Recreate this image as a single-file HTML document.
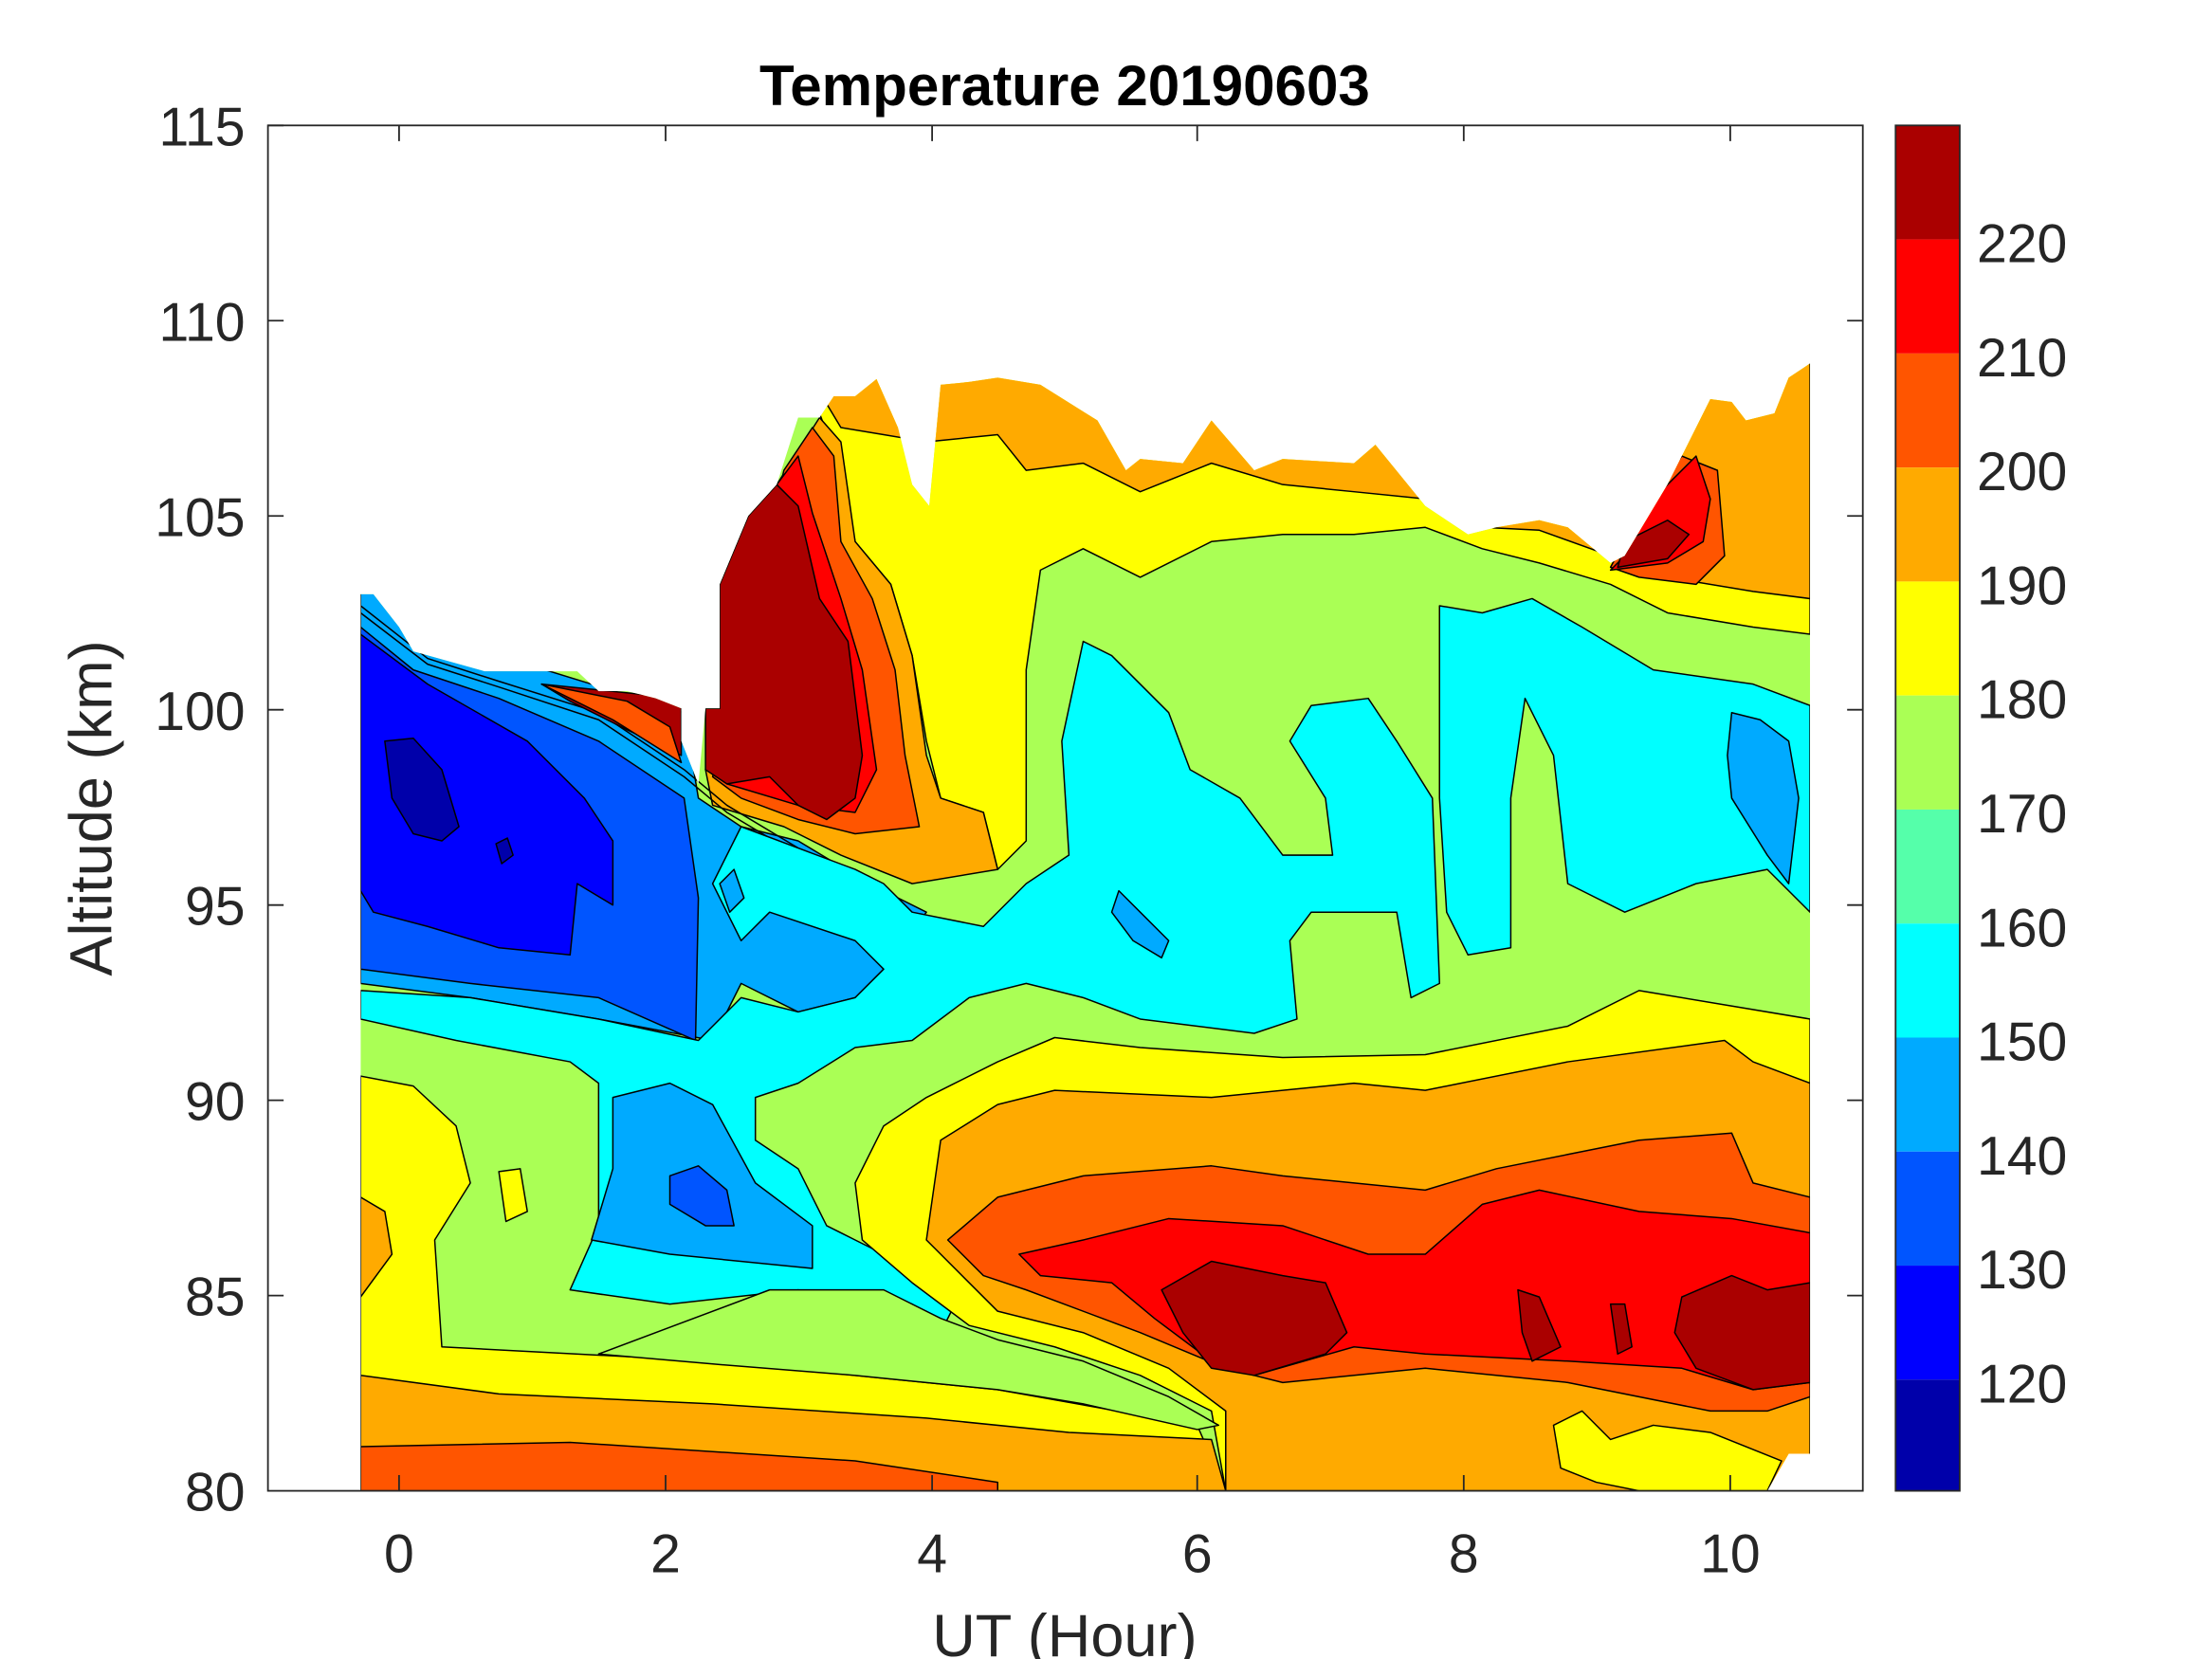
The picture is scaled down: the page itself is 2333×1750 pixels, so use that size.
<!DOCTYPE html>
<html><head><meta charset="utf-8"><style>html,body{margin:0;padding:0;background:#fff}svg{display:block}</style></head>
<body>
<svg width="2333" height="1750" viewBox="0 0 1552 1164" preserveAspectRatio="none" xmlns="http://www.w3.org/2000/svg" font-family="Liberation Sans, sans-serif">
<rect width="1552" height="1164" fill="#fff"/>
<defs><clipPath id="c"><polygon points="253,417 262,417 280,440 290,457 340,471 405,471 420,485 440,485 460,490 478,497 478,520 490,550 495,497 505,497 505,410 525,362 545,340 560,293 575,293 585,278 600,278 615,266 630,300 640,340 652,355 660,270 680,268 700,265 730,270 770,295 790,330 800,322 830,325 850,295 880,330 900,322 950,325 965,312 1000,355 1030,375 1050,370 1080,365 1100,370 1130,395 1140,390 1170,340 1200,280 1215,282 1225,295 1245,290 1255,265 1270,255 1270,1020 1255,1020 1240,1046 253,1046"/></clipPath></defs>
<g clip-path="url(#c)" stroke="#000" stroke-width="1" stroke-linejoin="round">
<rect x="240" y="240" width="1040" height="820" fill="#aaff55" stroke="none"/>
<!-- top yellow band -->
<polygon fill="#ffff00" points="560,250 1270,250 1270,445 1230,440 1170,430 1130,410 1080,395 1040,385 1000,370 950,375 900,375 850,380 800,405 760,385 730,400 720,470 720,590 700,610 690,570 660,560 650,520 640,460 625,410 600,380 590,330"/>
<!-- top orange -->
<polygon fill="#ffaa00" points="560,250 1270,250 1270,420 1230,415 1170,405 1130,390 1080,372 1040,370 1000,350 950,345 900,340 850,325 800,345 760,325 720,330 700,305 650,310 620,305 590,300"/>
<polygon fill="#ff5500" points="1150,360 1180,320 1205,330 1210,390 1190,410 1150,405 1130,398"/>
<polygon fill="#ff0000" points="1160,350 1190,320 1200,350 1195,380 1170,395 1130,400 1140,390"/>
<polygon fill="#aa0000" points="1140,380 1170,365 1185,375 1170,392 1135,398"/>
<!-- upper middle orange / red / dark red -->
<polygon fill="#ffaa00" points="545,340 575,293 590,310 600,380 625,410 640,460 650,530 660,560 690,570 700,610 640,620 590,600 550,580 500,565 495,540"/>
<polygon fill="#ff5500" points="550,330 570,300 585,320 590,380 612,420 628,470 635,530 645,580 600,585 560,575 520,560 500,545"/>
<polygon fill="#ff0000" points="545,340 560,320 570,360 590,420 605,470 615,540 600,570 560,565 510,550 500,520"/>
<polygon fill="#aa0000" points="505,410 525,362 545,340 560,355 575,420 595,450 605,530 600,560 580,575 560,565 540,545 510,550 495,540 495,497 505,497"/>
<!-- left light blue -->
<polygon fill="#00aaff" points="253,400 300,430 350,460 480,500 490,560 520,580 560,590 610,620 650,640 620,680 600,700 560,710 520,690 500,730 420,715 330,700 253,690"/>
<polyline fill="none" points="253,425 300,462 350,478 420,500 480,540 510,565 560,595 610,615"/>
<polyline fill="none" points="253,430 300,466 350,482 420,505 480,545 510,570 560,600"/>
<polygon fill="#0055ff" points="253,440 290,470 350,490 420,520 480,560 490,630 488,730 420,700 330,690 253,680"/>
<polygon fill="#0000ff" points="253,445 300,480 370,520 410,560 430,590 430,635 405,620 400,670 350,665 300,650 262,640 253,625"/>
<polygon fill="#0000aa" points="270,520 290,518 310,540 322,580 310,590 290,585 275,560"/>
<polygon fill="#0000aa" points="348,592 356,588 360,600 352,606"/>
<polygon fill="#aa0000" points="380,480 478,490 478,530 440,512 400,492"/>
<polygon fill="#ff5500" points="380,480 440,492 470,510 478,535 430,505"/>
<!-- cyan middle -->
<polygon fill="#00ffff" points="253,715 320,730 400,745 420,760 420,860 400,905 470,915 560,905 640,915 660,935 670,915 640,890 600,870 580,860 560,820 530,800 530,770 560,760 600,735 640,730 680,700 720,690 760,700 800,715 880,725 910,715 905,660 920,640 980,640 990,700 1010,690 1005,560 980,520 960,490 920,495 905,520 930,560 935,600 900,600 870,560 835,540 820,500 780,460 760,450 745,520 750,600 720,620 690,650 640,640 620,620 600,610 560,595 520,580 500,620 520,660 540,640 600,660 620,680 600,700 560,710 520,700 500,720 490,730 420,715 330,700 253,695"/>
<polygon fill="#00ffff" points="1010,425 1040,430 1075,420 1110,440 1160,470 1230,480 1270,495 1270,640 1240,610 1190,620 1140,640 1100,620 1090,530 1070,490 1060,560 1060,665 1030,670 1015,640 1010,560"/>
<polygon fill="#00aaff" points="1215,500 1235,505 1255,520 1262,560 1255,620 1240,600 1215,560 1212,530"/>
<polygon fill="#00aaff" points="785,625 800,640 820,660 815,672 795,660 780,640"/>
<polygon fill="#00aaff" points="430,770 470,760 500,775 530,830 570,860 570,890 470,880 415,870 430,820"/>
<polygon fill="#0055ff" points="470,825 490,818 510,835 515,860 495,860 470,845"/>
<polygon fill="#00aaff" points="505,620 515,610 522,630 512,640"/>
<!-- lower left yellow -->
<polygon fill="#ffff00" points="253,755 290,762 320,790 330,830 305,870 310,945 500,955 700,975 840,1000 860,1046 253,1046"/>
<polygon fill="#ffff00" points="350,822 365,820 370,850 355,857"/>
<!-- mid-right yellow -->
<polygon fill="#ffff00" points="600,830 620,790 650,770 700,745 740,728 800,735 900,742 1000,740 1100,720 1150,695 1270,715 1270,1046 860,1046 850,990 800,965 740,945 680,930 640,900 605,870"/>
<polygon fill="#aaff55" points="540,905 620,905 660,925 700,940 760,955 820,980 855,1000 840,1003 760,985 700,975 600,965 500,957 420,950"/>
<!-- orange -->
<polygon fill="#ffaa00" points="253,965 350,978 500,985 650,995 750,1005 850,1010 860,1046 253,1046"/>
<polygon fill="#ffaa00" points="253,840 270,850 275,880 253,910"/>
<polygon fill="#ffaa00" points="650,870 660,800 700,775 740,765 850,770 950,760 1000,765 1100,745 1210,730 1230,745 1270,760 1270,1020 1240,1046 860,1046 860,990 820,960 760,935 700,920 660,880"/>
<polygon fill="#ffff00" points="1090,1000 1110,990 1130,1010 1160,1000 1200,1005 1250,1025 1240,1046 1150,1046 1120,1040 1095,1030"/>
<polygon fill="#ff5500" points="253,1015 400,1012 600,1025 700,1040 700,1046 253,1046"/>
<polygon fill="#ff5500" points="665,870 700,840 760,825 850,818 900,825 1000,835 1050,820 1100,810 1150,800 1215,795 1230,830 1270,840 1270,980 1240,990 1200,990 1100,970 1000,960 900,970 860,960 800,935 720,905 690,895"/>
<polygon fill="#ff0000" points="715,880 760,870 820,855 900,860 960,880 1000,880 1040,845 1080,835 1150,850 1215,855 1270,865 1270,970 1230,975 1180,960 1100,955 1000,950 950,945 880,965 850,955 810,925 780,900 730,895"/>
<polygon fill="#aa0000" points="815,905 850,885 900,895 930,900 945,935 930,950 880,965 850,960 830,935"/>
<polygon fill="#aa0000" points="1065,905 1080,910 1095,945 1075,955 1068,935"/>
<polygon fill="#aa0000" points="1130,915 1140,915 1145,945 1135,950"/>
<polygon fill="#aa0000" points="1180,910 1215,895 1240,905 1270,900 1270,970 1230,975 1190,960 1175,935"/>
</g>
<!-- axes -->
<rect x="188" y="88" width="1119" height="958" fill="none" stroke="#262626" stroke-width="1.2"/>
<g stroke="#262626" stroke-width="1.2">
<path d="M280,1046v-11M467,1046v-11M654,1046v-11M840,1046v-11M1027,1046v-11M1214,1046v-11M280,88v11M467,88v11M654,88v11M840,88v11M1027,88v11M1214,88v11"/>
<path d="M188,88h11M188,225h11M188,362h11M188,498h11M188,635h11M188,772h11M188,909h11M1307,225h-11M1307,362h-11M1307,498h-11M1307,635h-11M1307,772h-11M1307,909h-11"/>
</g>
<g font-size="38" fill="#262626" text-anchor="middle">
<text x="280" y="1103">0</text><text x="467" y="1103">2</text><text x="654" y="1103">4</text><text x="840" y="1103">6</text><text x="1027" y="1103">8</text><text x="1214" y="1103">10</text>
</g>
<g font-size="38" fill="#262626" text-anchor="end">
<text x="172" y="102">115</text><text x="172" y="239">110</text><text x="172" y="376">105</text><text x="172" y="512">100</text><text x="172" y="649">95</text><text x="172" y="786">90</text><text x="172" y="923">85</text><text x="172" y="1060">80</text>
</g>
<text x="747" y="1162" font-size="42" fill="#262626" text-anchor="middle">UT (Hour)</text>
<text transform="translate(78,567) rotate(-90)" font-size="42" fill="#262626" text-anchor="middle">Altitude (km)</text>
<text x="747" y="74" font-size="40" font-weight="bold" text-anchor="middle">Temperature 20190603</text>
<g>
<rect x="1330" y="88" width="45" height="80" fill="#aa0000"/>
<rect x="1330" y="168" width="45" height="80" fill="#ff0000"/>
<rect x="1330" y="248" width="45" height="80" fill="#ff5500"/>
<rect x="1330" y="328" width="45" height="80" fill="#ffaa00"/>
<rect x="1330" y="408" width="45" height="80" fill="#ffff00"/>
<rect x="1330" y="488" width="45" height="80" fill="#aaff55"/>
<rect x="1330" y="568" width="45" height="80" fill="#55ffaa"/>
<rect x="1330" y="648" width="45" height="80" fill="#00ffff"/>
<rect x="1330" y="728" width="45" height="80" fill="#00aaff"/>
<rect x="1330" y="808" width="45" height="80" fill="#0055ff"/>
<rect x="1330" y="888" width="45" height="80" fill="#0000ff"/>
<rect x="1330" y="968" width="45" height="78" fill="#0000aa"/>
<rect x="1330" y="88" width="45" height="958" fill="none" stroke="#262626" stroke-width="1.2"/>
</g>
<g font-size="38" fill="#262626">
<text x="1387" y="184">220</text><text x="1387" y="264">210</text><text x="1387" y="344">200</text><text x="1387" y="424">190</text><text x="1387" y="504">180</text><text x="1387" y="584">170</text><text x="1387" y="664">160</text><text x="1387" y="744">150</text><text x="1387" y="824">140</text><text x="1387" y="904">130</text><text x="1387" y="984">120</text>
</g>
</svg>
</body></html>
